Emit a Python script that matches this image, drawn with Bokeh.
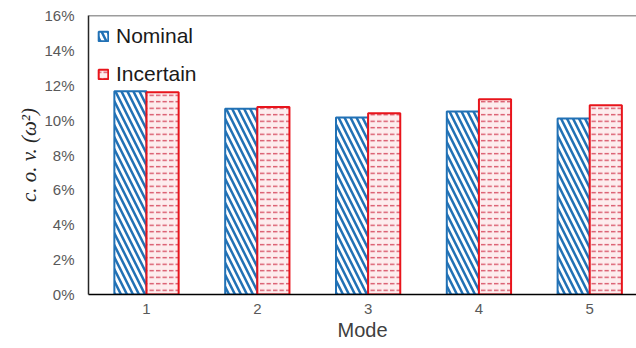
from bokeh.plotting import figure
from bokeh.models import Range1d, FixedTicker, PrintfTickFormatter, Span, Legend, LegendItem, ColumnDataSource
from bokeh.embed import file_html
from bokeh.resources import INLINE
import numpy as np

modes = [1, 2, 3, 4, 5]
tick_labels = ["1", "2", "3", "4", "5"]
nominal = [11.65, 10.65, 10.15, 10.5, 10.1]
incertain = [11.6, 10.75, 10.4, 11.2, 10.85]
y_ticks = [0, 2, 4, 6, 8, 10, 12, 14, 16]

bar_w = 0.29
off = 0.145

p = figure(width=636, height=346, output_backend="svg", toolbar_location=None,
           x_range=Range1d(0.4765, 5.422), y_range=Range1d(0, 16),
           min_border_left=88, min_border_right=0, min_border_top=15, min_border_bottom=52)
p.outline_line_color = None
p.grid.visible = False
p.background_fill_color = "white"
p.border_fill_color = "white"

src = ColumnDataSource(dict(xn=np.array(modes) - off, xi=np.array(modes) + off,
                            nominal=nominal, incertain=incertain))

r1 = p.vbar(x="xn", top="nominal", width=bar_w, source=src,
            fill_color="white", line_color="#2171B5", line_width=2,
            hatch_pattern="\\", hatch_color="#2171B5", hatch_scale=12, hatch_weight=2.5)
r2 = p.vbar(x="xi", top="incertain", width=bar_w, source=src,
            fill_color="#FDEDEE", line_color="#E8141B", line_width=2,
            hatch_pattern='"', hatch_color="#D5475C", hatch_scale=6.5, hatch_weight=1.3)

p.add_layout(Span(location=16, dimension="width", line_color="#3a3a3a", line_width=1.5))

# axes
p.xaxis.ticker = FixedTicker(ticks=modes)
p.xaxis.major_label_overrides = {m: t for m, t in zip(modes, tick_labels)}
p.xaxis.axis_label = "Mode"
p.xaxis.axis_line_color = "black"
p.xaxis.axis_line_width = 1.5
p.xaxis.major_tick_line_color = None
p.xaxis.minor_tick_line_color = None
p.xaxis.major_tick_out = 0
p.xaxis.major_label_standoff = 9
p.xaxis.axis_label_standoff = 2
p.xaxis.major_label_text_font = "Liberation Sans"
p.xaxis.major_label_text_font_size = "15px"
p.xaxis.major_label_text_color = "#595959"
p.xaxis.axis_label_text_font = "Liberation Sans"
p.xaxis.axis_label_text_font_size = "20px"
p.xaxis.axis_label_text_font_style = "normal"
p.xaxis.axis_label_text_color = "#404040"

p.yaxis.ticker = FixedTicker(ticks=y_ticks)
p.yaxis.formatter = PrintfTickFormatter(format="%d%%")
p.yaxis.axis_label = "c. o. v. (ω²)"
p.yaxis.axis_line_color = "#262626"
p.yaxis.axis_line_width = 1.5
p.yaxis.major_tick_line_color = None
p.yaxis.minor_tick_line_color = None
p.yaxis.major_tick_out = 0
p.yaxis.major_label_standoff = 14
p.yaxis.axis_label_standoff = 0
p.yaxis.major_label_text_font = "Liberation Sans"
p.yaxis.major_label_text_font_size = "15px"
p.yaxis.major_label_text_color = "#595959"
p.yaxis.axis_label_text_font = "Liberation Serif"
p.yaxis.axis_label_text_font_size = "21px"
p.yaxis.axis_label_text_font_style = "italic"
p.yaxis.axis_label_text_color = "#262626"

legend = Legend(items=[LegendItem(label="Nominal", renderers=[r1]),
                       LegendItem(label="Incertain", renderers=[r2])],
                location="top_left")
legend.background_fill_alpha = 0
legend.border_line_color = None
legend.label_text_font = "Liberation Sans"
legend.label_text_font_size = "21px"
legend.label_text_color = "#1a1a1a"
legend.glyph_width = 12
legend.glyph_height = 12
legend.label_standoff = 7
legend.label_height = 20
legend.spacing = 14
legend.margin = 9
legend.padding = 0
p.add_layout(legend)

open("out.html", "w").write(file_html(p, INLINE))
